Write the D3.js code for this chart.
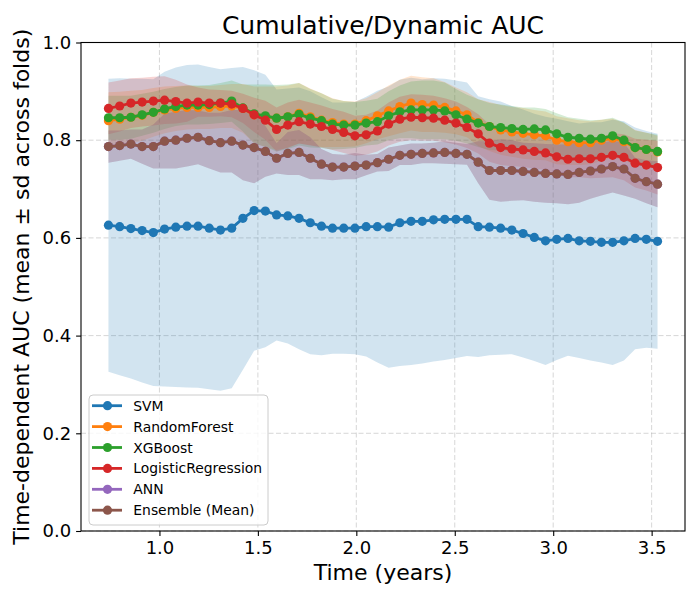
<!DOCTYPE html>
<html>
<head>
<meta charset="utf-8">
<script src="https://cdn.jsdelivr.net/npm/d3@7"></script>
<style>
  body { margin: 0; background: #fff; }
  text { font-family: "DejaVu Sans", sans-serif; }
</style>
</head>
<body>
<svg id="canvas"></svg>
<script>
// time points (years)
let times = [0.741,0.798,0.855,0.912,0.969,1.026,1.083,1.140,1.196,1.253,
             1.310,1.367,1.424,1.481,1.538,1.595,1.652,1.709,1.766,1.823,
             1.879,1.936,1.993,2.050,2.107,2.164,2.221,2.278,2.335,2.392,
             2.449,2.506,2.562,2.619,2.676,2.733,2.790,2.847,2.904,2.961,
             3.018,3.075,3.132,3.189,3.245,3.302,3.359,3.416,3.473,3.530]

let modelNames = ['SVM', 'RandomForest', 'XGBoost', 'LogisticRegression', 'ANN', 'Ensemble (Mean)']
let modelColors = ['#1f77b4', '#ff7f0e', '#2ca02c', '#d62728', '#9467bd', '#8c564b']

let svmMean = [0.626,0.623,0.619,0.615,0.611,0.618,0.622,0.624,0.624,0.620,
               0.616,0.620,0.640,0.656,0.655,0.647,0.645,0.640,0.631,0.624,
               0.620,0.620,0.620,0.623,0.623,0.622,0.631,0.634,0.634,0.637,
               0.638,0.638,0.638,0.623,0.622,0.620,0.616,0.609,0.601,0.594,
               0.597,0.599,0.594,0.593,0.591,0.591,0.594,0.599,0.597,0.593]
let svmSd = [0.300,0.304,0.307,0.311,0.314,0.322,0.327,0.330,0.331,0.330,
             0.329,0.328,0.310,0.287,0.279,0.257,0.261,0.268,0.269,0.264,
             0.257,0.257,0.258,0.266,0.278,0.288,0.293,0.294,0.291,0.290,
             0.288,0.284,0.280,0.267,0.262,0.259,0.254,0.254,0.253,0.254,
             0.247,0.240,0.240,0.244,0.246,0.251,0.245,0.227,0.222,0.220]

let rfMean = [0.840,0.843,0.847,0.851,0.857,0.862,0.865,0.867,0.867,0.867,
              0.869,0.870,0.865,0.852,0.848,0.845,0.848,0.855,0.848,0.841,
              0.836,0.833,0.833,0.840,0.850,0.860,0.869,0.876,0.873,0.872,
              0.867,0.860,0.852,0.836,0.828,0.821,0.817,0.814,0.811,0.809,
              0.800,0.797,0.795,0.795,0.800,0.804,0.797,0.785,0.781,0.776]
let rfSd = [0.058,0.056,0.054,0.052,0.050,0.048,0.046,0.045,0.044,0.044,
            0.044,0.045,0.050,0.058,0.062,0.065,0.064,0.062,0.058,0.055,
            0.050,0.047,0.046,0.046,0.048,0.052,0.055,0.056,0.056,0.055,
            0.052,0.048,0.046,0.048,0.050,0.051,0.051,0.052,0.051,0.050,
            0.049,0.048,0.046,0.044,0.042,0.040,0.038,0.036,0.034,0.033]

let xgbMean = [0.846,0.846,0.847,0.852,0.857,0.864,0.869,0.872,0.872,0.873,
               0.876,0.880,0.866,0.854,0.850,0.845,0.848,0.853,0.845,0.840,
               0.833,0.831,0.831,0.835,0.838,0.850,0.858,0.862,0.862,0.862,
               0.860,0.852,0.843,0.835,0.828,0.826,0.824,0.822,0.823,0.821,
               0.813,0.806,0.804,0.802,0.804,0.809,0.800,0.785,0.781,0.777]
let xgbSd = [0.045,0.045,0.044,0.043,0.042,0.041,0.040,0.040,0.040,0.040,
             0.041,0.042,0.048,0.060,0.064,0.068,0.066,0.064,0.060,0.056,
             0.052,0.049,0.047,0.046,0.047,0.050,0.054,0.058,0.060,0.060,
             0.058,0.053,0.050,0.049,0.048,0.047,0.046,0.045,0.044,0.043,
             0.042,0.041,0.040,0.039,0.038,0.037,0.036,0.035,0.034,0.034]

let lrMean = [0.865,0.870,0.876,0.878,0.880,0.882,0.879,0.876,0.878,0.876,
              0.876,0.874,0.865,0.852,0.841,0.822,0.831,0.838,0.833,0.828,
              0.822,0.816,0.809,0.811,0.819,0.833,0.843,0.847,0.846,0.845,
              0.841,0.835,0.826,0.813,0.794,0.785,0.782,0.780,0.777,0.774,
              0.766,0.761,0.762,0.762,0.765,0.769,0.765,0.753,0.749,0.744]
let lrSd = [0.053,0.052,0.051,0.050,0.050,0.049,0.045,0.038,0.030,0.028,
            0.027,0.027,0.030,0.035,0.040,0.045,0.046,0.045,0.044,0.043,
            0.042,0.042,0.041,0.041,0.042,0.044,0.046,0.047,0.047,0.046,
            0.045,0.044,0.042,0.040,0.038,0.036,0.035,0.035,0.035,0.035,
            0.036,0.037,0.038,0.040,0.042,0.045,0.047,0.050,0.052,0.055]

// ANN sits exactly under the ensemble line in the picture
let annMean = [0.787,0.789,0.792,0.787,0.787,0.798,0.800,0.804,0.806,0.799,
               0.795,0.798,0.790,0.785,0.777,0.763,0.773,0.775,0.763,0.751,
               0.745,0.745,0.747,0.749,0.754,0.761,0.769,0.771,0.773,0.774,
               0.775,0.773,0.771,0.755,0.738,0.738,0.738,0.736,0.734,0.732,
               0.731,0.730,0.734,0.737,0.741,0.746,0.741,0.722,0.715,0.710]
let annSd = [0.033,0.031,0.030,0.035,0.045,0.056,0.058,0.058,0.055,0.057,
             0.061,0.064,0.072,0.073,0.052,0.031,0.044,0.046,0.043,0.031,
             0.027,0.025,0.027,0.021,0.018,0.024,0.020,0.022,0.020,0.021,
             0.023,0.022,0.021,0.043,0.060,0.064,0.062,0.059,0.060,0.060,
             0.060,0.061,0.062,0.057,0.054,0.053,0.054,0.042,0.044,0.047]

let ensMean = [0.787,0.789,0.792,0.787,0.787,0.798,0.800,0.804,0.806,0.799,
               0.795,0.798,0.790,0.785,0.777,0.763,0.773,0.775,0.763,0.751,
               0.745,0.745,0.747,0.749,0.754,0.761,0.769,0.771,0.773,0.774,
               0.775,0.773,0.771,0.755,0.738,0.738,0.738,0.736,0.734,0.732,
               0.731,0.730,0.734,0.737,0.741,0.746,0.741,0.722,0.715,0.710]
let ensSd = [0.033,0.031,0.030,0.035,0.045,0.056,0.058,0.058,0.055,0.057,
             0.061,0.064,0.072,0.073,0.052,0.031,0.044,0.046,0.043,0.031,
             0.027,0.025,0.027,0.021,0.018,0.024,0.020,0.022,0.020,0.021,
             0.023,0.022,0.021,0.043,0.060,0.064,0.062,0.059,0.060,0.060,
             0.060,0.061,0.062,0.057,0.054,0.053,0.054,0.042,0.044,0.047]

let xTicks = [1.0, 1.5, 2.0, 2.5, 3.0, 3.5]
let yTicks = [0.0, 0.2, 0.4, 0.6, 0.8, 1.0]

let means = [svmMean, rfMean, xgbMean, lrMean, annMean, ensMean]
let sds = [svmSd, rfSd, xgbSd, lrSd, annSd, ensSd]

let series = modelNames.map((name, k) => ({
    name: name,
    color: modelColors[k],
    points: times.map((t, i) => ({ t: t, m: means[k][i], s: sds[k][i] }))
}))

let width = 700
let height = 600
let plotLeft = 81, plotRight = 685, plotTop = 42.5, plotBottom = 531

let canvas = d3.select('#canvas')
    .attr('width', width)
    .attr('height', height)

// 5% margin like matplotlib
let ext = d3.extent(times)
let pad = (ext[1] - ext[0]) * 0.05
let xScale = d3.scaleLinear()
    .domain([ext[0] - pad, ext[1] + pad])
    .range([plotLeft, plotRight])
let yScale = d3.scaleLinear()
    .domain([0, 1])
    .range([plotBottom, plotTop])

canvas.append('defs').append('clipPath')
    .attr('id', 'plotclip')
    .append('rect')
    .attr('x', plotLeft).attr('y', plotTop)
    .attr('width', plotRight - plotLeft).attr('height', plotBottom - plotTop)

// grid
let grid = canvas.append('g')
grid.selectAll('.vgrid')
    .data(xTicks)
    .enter()
    .append('line')
    .attr('x1', d => xScale(d)).attr('x2', d => xScale(d))
    .attr('y1', plotTop).attr('y2', plotBottom)
grid.selectAll('.hgrid')
    .data(yTicks)
    .enter()
    .append('line')
    .attr('x1', plotLeft).attr('x2', plotRight)
    .attr('y1', d => yScale(d)).attr('y2', d => yScale(d))
grid.selectAll('line')
    .attr('stroke', '#b0b0b0')
    .attr('stroke-opacity', 0.5)
    .attr('stroke-width', 1)
    .attr('stroke-dasharray', '5,2.5')

let plot = canvas.append('g').attr('clip-path', 'url(#plotclip)')

let area = d3.area()
    .x(d => xScale(d.t))
    .y0(d => yScale(d.m - d.s))
    .y1(d => yScale(d.m + d.s))

let line = d3.line()
    .x(d => xScale(d.t))
    .y(d => yScale(d.m))

// bands under all lines
plot.selectAll('.band')
    .data(series)
    .enter()
    .append('path')
    .attr('d', d => area(d.points))
    .attr('fill', d => d.color)
    .attr('fill-opacity', 0.2)

series.forEach(s => {
    let g = plot.append('g')
    g.append('path')
        .attr('d', line(s.points))
        .attr('fill', 'none')
        .attr('stroke', s.color)
        .attr('stroke-width', 2.8)
    g.selectAll('circle')
        .data(s.points)
        .enter()
        .append('circle')
        .attr('cx', d => xScale(d.t))
        .attr('cy', d => yScale(d.m))
        .attr('r', 4.6)
        .attr('fill', s.color)
})

// axes
let xAxis = d3.axisBottom(xScale)
    .tickValues(xTicks)
    .tickFormat(d3.format('.1f'))
    .tickSize(4.9)
    .tickPadding(4.9)
let yAxis = d3.axisLeft(yScale)
    .tickValues(yTicks)
    .tickFormat(d3.format('.1f'))
    .tickSize(4.9)
    .tickPadding(4.9)

let gx = canvas.append('g')
    .attr('transform', 'translate(0,' + plotBottom + ')')
    .call(xAxis)
let gy = canvas.append('g')
    .attr('transform', 'translate(' + plotLeft + ',0)')
    .call(yAxis)

;[gx, gy].forEach(g => {
    g.select('.domain').remove()
    g.selectAll('.tick line').attr('stroke', '#000').attr('stroke-width', 1.1)
    g.selectAll('.tick text')
        .attr('fill', '#000')
        .style('font-size', '18px')
        .style('font-family', '"DejaVu Sans", sans-serif')
})

// spines
canvas.append('rect')
    .attr('x', plotLeft).attr('y', plotTop)
    .attr('width', plotRight - plotLeft).attr('height', plotBottom - plotTop)
    .attr('fill', 'none')
    .attr('stroke', '#000')
    .attr('stroke-width', 1.1)

// title and labels
canvas.append('text')
    .attr('x', (plotLeft + plotRight) / 2)
    .attr('y', 34)
    .attr('text-anchor', 'middle')
    .style('font-size', '25px')
    .text('Cumulative/Dynamic AUC')

canvas.append('text')
    .attr('x', (plotLeft + plotRight) / 2)
    .attr('y', 580)
    .attr('text-anchor', 'middle')
    .style('font-size', '22px')
    .text('Time (years)')

canvas.append('text')
    .attr('transform', 'translate(29,' + ((plotTop + plotBottom) / 2) + ') rotate(-90)')
    .attr('text-anchor', 'middle')
    .style('font-size', '22px')
    .text('Time-dependent AUC (mean \u00b1 sd across folds)')

// legend
let legend = canvas.append('g')
legend.append('rect')
    .attr('x', 89).attr('y', 395)
    .attr('width', 179).attr('height', 130)
    .attr('rx', 4)
    .attr('fill', '#fff')
    .attr('fill-opacity', 0.8)
    .attr('stroke', '#cccccc')
    .attr('stroke-width', 1)

let items = legend.selectAll('.item')
    .data(series)
    .enter()
    .append('g')
    .attr('transform', (d, i) => 'translate(0,' + (405.7 + i * 20.9) + ')')
items.append('line')
    .attr('x1', 92).attr('x2', 122)
    .attr('stroke', d => d.color)
    .attr('stroke-width', 2.8)
items.append('circle')
    .attr('cx', 107.5)
    .attr('r', 4.6)
    .attr('fill', d => d.color)
items.append('text')
    .attr('x', 133.3)
    .attr('y', 5)
    .style('font-size', '13.9px')
    .text(d => d.name)
</script>
</body>
</html>
